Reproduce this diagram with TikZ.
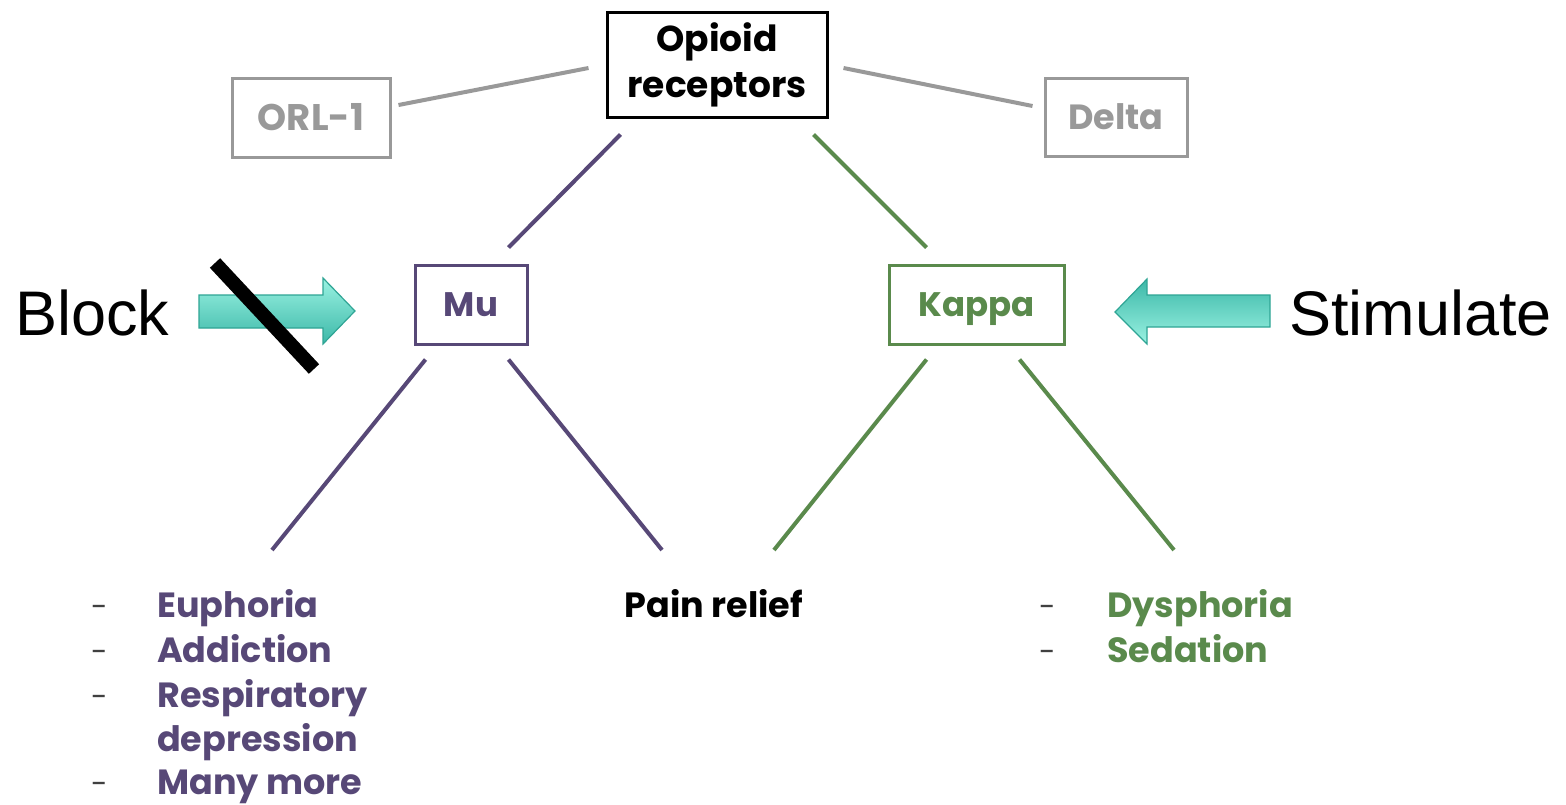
\documentclass[tikz,border=0pt]{standalone}
\usepackage{fontspec}
\setmainfont{Poppins}
\newfontfamily\arialfont{Liberation Sans}
\usetikzlibrary{calc}
\definecolor{mupurple}{HTML}{574877}
\definecolor{kgreen}{HTML}{5A8A4C}
\definecolor{lgray}{HTML}{999999}
\definecolor{tealdark}{HTML}{3CB8A8}
\definecolor{teallight}{HTML}{9AF2E2}
\definecolor{tealedge}{HTML}{2FA595}
\tikzset{
  box/.style={draw, line width=3pt, inner sep=0pt, font=\bfseries\fontsize{35}{38}\selectfont, align=center},
  smallbox/.style={box, minimum height=79pt, text height=24pt, text depth=0pt, font=\bfseries\fontsize{34}{36}\selectfont},
  link/.style={line width=4pt},
  effect/.style={anchor=base west, inner sep=0pt, font=\bfseries\fontsize{35}{38}\selectfont},
  dashmark/.style={anchor=base, inner sep=0pt, text=black!75, font=\fontsize{30}{32}\selectfont},
  bigword/.style={inner sep=0pt, font=\arialfont\fontsize{63}{66}\selectfont},
}
\begin{document}
\begin{tikzpicture}[x=1pt,y=-1pt]
\useasboundingbox (0,0) rectangle (1566,804);
\fill[white] (0,0) rectangle (1566,804);

% boxes
\node[box, minimum width=220pt, minimum height=105pt, font=\bfseries\fontsize{36}{46}\selectfont] (op) at (717,64.5) {Opioid\\receptors};
\node[box, draw=lgray, text=lgray, minimum width=158pt, minimum height=79pt, font=\bfseries\fontsize{37}{40}\selectfont] (orl) at (311,117.5) {ORL-1};
\node[box, draw=lgray, text=lgray, minimum width=142pt, minimum height=78pt] (delta) at (1116,117) {Delta};
\node[smallbox, draw=mupurple, text=mupurple, minimum width=112pt] (mu) at (471,304.5) {Mu};
\node[smallbox, draw=kgreen, text=kgreen, minimum width=175pt] (kappa) at (976.5,304.5) {Kappa};

% top links
\draw[link, lgray] ([shift={(7,-12.5)}]orl.east) -- ([shift={(-17,3.5)}]op.west);
\draw[link, lgray] ([shift={(15,3.5)}]op.east) -- ([shift={(-11,-11)}]delta.west);
\draw[link, mupurple] ([shift={(15,16)}]op.south west) -- ([shift={(-20,-16)}]mu.north east);
\draw[link, kgreen] ([shift={(-15,16)}]op.south east) -- ([shift={(39,-16)}]kappa.north west);

% lower end points
\coordinate (mul) at (272,550);
\coordinate (mur) at (662,550);
\coordinate (kl) at (774,550);
\coordinate (kr) at (1174,550);
\draw[link, mupurple] ([shift={(12,14)}]mu.south west) -- (mul);
\draw[link, mupurple] ([shift={(-20,14)}]mu.south east) -- (mur);
\draw[link, kgreen] ([shift={(39,14)}]kappa.south west) -- (kl);
\draw[link, kgreen] ([shift={(-46,14)}]kappa.south east) -- (kr);

% pain relief
\node[inner sep=0pt, anchor=base, font=\bfseries\fontsize{35}{38}\selectfont] (pain) at (714,617) {Pain relief};

% Mu effects
\foreach \t/\y [count=\i] in {Euphoria/617, Addiction/662, Respiratory/707}{
  \node[dashmark] (mud\i) at (100,\y) {-};
  \node[effect, text=mupurple] (mue\i) at (157,\y) {\t};
}
\node[effect, text=mupurple] (mue4) at (157,751) {depression};
\node[dashmark] (mud5) at (100,794) {-};
\node[effect, text=mupurple] (mue5) at (157,794) {Many more};

% Kappa effects
\node[dashmark] (kd1) at (1048,617) {-};
\node[effect, text=kgreen] (ke1) at (1107,617) {Dysphoria};
\node[dashmark] (kd2) at (1048,662) {-};
\node[effect, text=kgreen] (ke2) at (1107,662) {Sedation};

% Block / Stimulate
\node[bigword, anchor=west] (block) at (15,313) {Block};
\node[bigword, anchor=east] (stim) at (1552,313) {Stimulate};

% block arrow (right)
\shade[top color=teallight, bottom color=tealdark, draw=tealedge, line width=1.2pt]
  (199,295) -- (323,295) -- (323,278) -- (355,311) -- (323,344) -- (323,328) -- (199,328) -- cycle;
% slash
\draw[line width=14pt, black] (215,263) -- (314,369);

% stimulate arrow (left)
\shade[top color=tealdark, bottom color=teallight, draw=tealedge, line width=1.2pt]
  (1270,295) -- (1147,295) -- (1147,279) -- (1115,312) -- (1147,344) -- (1147,327) -- (1270,327) -- cycle;
\end{tikzpicture}
\end{document}
